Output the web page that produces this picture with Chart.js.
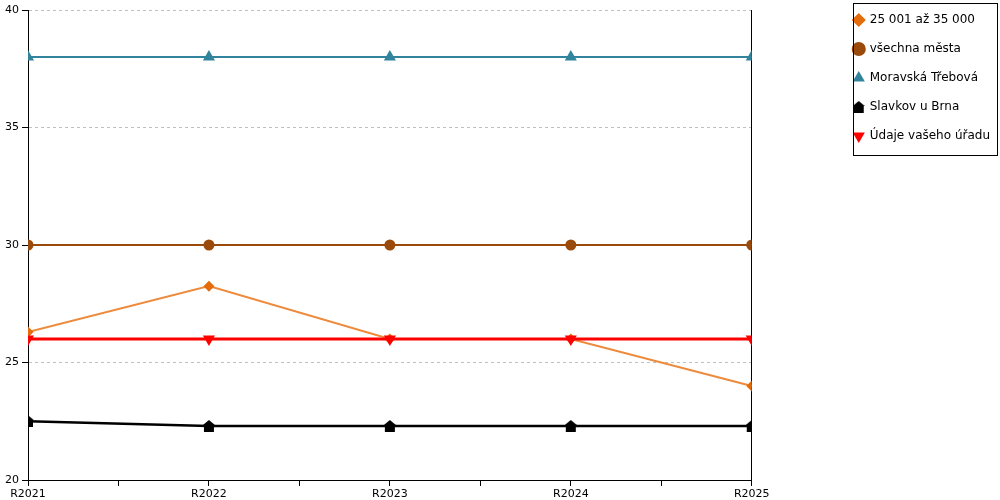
<!DOCTYPE html>
<html>
<head>
<meta charset="utf-8">
<script src="https://cdn.jsdelivr.net/npm/chart.js@4"></script>
<style>
  body { margin: 0; background: #fff; }
  #wrap { width: 1000px; height: 500px; }
</style>
</head>
<body>
<div id="wrap"><canvas id="chart" width="1000" height="500"></canvas></div>
<script>
const years = ['R2021', 'R2022', 'R2023', 'R2024', 'R2025'];
const seriesNames = ['25 001 až 35 000', 'všechna města', 'Moravská Třebová', 'Slavkov u Brna', 'Údaje vašeho úřadu'];
const sizeGroup = [26.3, 28.25, 26, 26, 24];
const allCities = [30, 30, 30, 30, 30];
const moravska = [38, 38, 38, 38, 38];
const slavkov = [22.5, 22.3, 22.3, 22.3, 22.3];
const yourOffice = [26, 26, 26, 26, 26];
const yTicks = [20, 25, 30, 35, 40];

const FONT = 'DejaVu Sans, Verdana, sans-serif';

// black "house" marker: roof on top of a square
const house = document.createElement('canvas');
house.width = 12;
house.height = 12;
const hc = house.getContext('2d');
hc.fillStyle = '#000';
hc.beginPath();
hc.moveTo(6, 0);
hc.lineTo(12, 5);
hc.lineTo(11, 5);
hc.lineTo(11, 12);
hc.lineTo(1, 12);
hc.lineTo(1, 5);
hc.lineTo(0, 5);
hc.closePath();
hc.fill();

function pts(values) {
  return values.map((v, i) => ({ x: i, y: v }));
}

const legendBox = {
  id: 'legendBox',
  afterLayout(chart) {
    // pull the legend up a little so the first item sits near the top
    chart.legend.top -= 3;
  },
  afterDraw(chart) {
    const lg = chart.legend;
    const ctx = chart.ctx;
    ctx.save();
    ctx.strokeStyle = '#000';
    ctx.lineWidth = 1;
    ctx.strokeRect(Math.round(lg.left) + 16.5, 3.5, Math.round(chart.width - lg.left) - 19, 152);
    ctx.restore();
  }
};

const ctx = document.getElementById('chart').getContext('2d');
new Chart(ctx, {
  type: 'line',
  data: {
    datasets: [
      {
        label: seriesNames[0], data: pts(sizeGroup),
        borderColor: '#EE8A3C', backgroundColor: '#E46C0A', borderWidth: 2,
        pointStyle: 'rectRot', pointRadius: 5.5, pointBorderWidth: 0, pointBackgroundColor: '#E46C0A'
      },
      {
        label: seriesNames[1], data: pts(allCities),
        borderColor: '#9A4A0B', backgroundColor: '#9A4A0B', borderWidth: 2,
        pointStyle: 'circle', pointRadius: 5.5, pointBorderWidth: 0
      },
      {
        label: seriesNames[2], data: pts(moravska),
        borderColor: '#31849B', backgroundColor: '#31849B', borderWidth: 2,
        pointStyle: 'triangle', pointRadius: 7, pointBorderWidth: 0
      },
      {
        label: seriesNames[3], data: pts(slavkov),
        borderColor: '#000', backgroundColor: '#000', borderWidth: 2.5,
        pointStyle: house, pointRadius: 6, pointBorderWidth: 0
      },
      {
        label: seriesNames[4], data: pts(yourOffice), order: -1,
        borderColor: '#FF0000', backgroundColor: '#FF0000', borderWidth: 3,
        pointStyle: 'triangle', pointRotation: 180, pointRadius: 7, pointBorderWidth: 0
      }
    ]
  },
  options: {
    responsive: false,
    animation: false,
    layout: { padding: 0 },
    elements: { line: { tension: 0 } },
    plugins: {
      tooltip: { enabled: false },
      legend: {
        position: 'right',
        align: 'start',
        labels: {
          usePointStyle: true,
          boxWidth: 10,
          boxHeight: 10,
          padding: 17,
          color: '#000',
          font: { family: FONT, size: 12 },
          sort: (a, b) => a.datasetIndex - b.datasetIndex
        }
      }
    },
    scales: {
      x: {
        type: 'linear',
        min: 0,
        max: years.length - 1,
        afterBuildTicks: (scale) => {
          const t = [];
          for (let i = 0; i <= (years.length - 1) * 2; i++) t.push({ value: i / 2 });
          scale.ticks = t;
        },
        afterFit: (scale) => { scale.height = 20; },
        ticks: {
          autoSkip: false,
          maxRotation: 0,
          padding: 2,
          color: '#000',
          font: { family: FONT, size: 11 },
          callback: (v) => Number.isInteger(v) ? years[v] : ''
        },
        grid: { drawOnChartArea: false, tickLength: 6, tickColor: '#000' },
        border: { color: '#000', width: 1 }
      },
      y: {
        min: 20,
        max: 40,
        afterBuildTicks: (scale) => { scale.ticks = yTicks.map(v => ({ value: v })); },
        afterFit: (scale) => { scale.width = 28; scale.paddingTop = 10; },
        ticks: {
          padding: 3,
          color: '#000',
          font: { family: FONT, size: 11 }
        },
        grid: { color: '#C0C0C0', tickLength: 6, tickColor: '#000', tickBorderDash: [] },
        border: { color: '#000', width: 1, dash: [3, 3] }
      },
      y2: {
        position: 'right',
        min: 20,
        max: 40,
        afterFit: (scale) => { scale.width = 85; },
        ticks: { display: false },
        grid: { drawOnChartArea: false, drawTicks: false },
        border: { color: '#000', width: 1 }
      }
    }
  },
  plugins: [legendBox]
});
</script>
</body>
</html>
